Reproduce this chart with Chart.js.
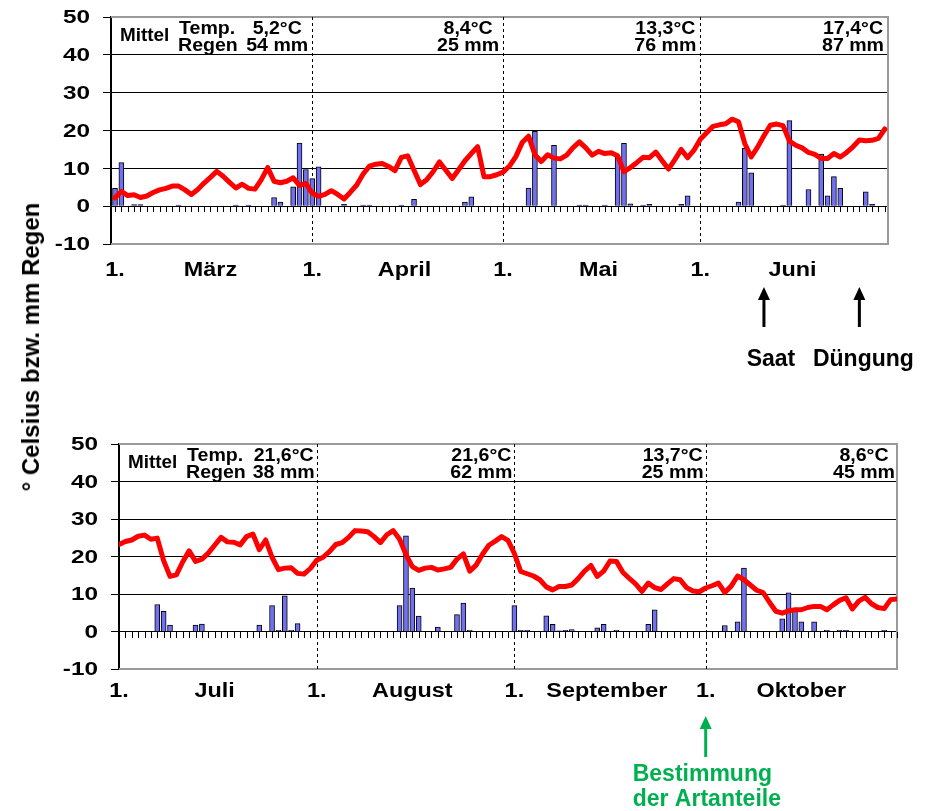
<!DOCTYPE html>
<html lang="de">
<head>
<meta charset="utf-8">
<title>Temperatur und Niederschlag</title>
<script src="https://cdn.jsdelivr.net/npm/chart.js@4.4.1/dist/chart.umd.min.js"></script>
<style>
  html, body { margin: 0; padding: 0; background: #fff; }
  #wrap { position: relative; width: 933px; height: 811px; overflow: hidden; background: #fff; }
  #wrap canvas { position: absolute; left: 0; top: 0; }
  #ytitle {
    position: absolute; left: 31px; top: 347px;
    transform: translate(-50%, -50%) rotate(-90deg);
    font: bold 24px "Liberation Sans", Arial, sans-serif;
    white-space: nowrap; color: #000;
  }
</style>
</head>
<body>
<div id="wrap">
  <canvas id="spring" width="933" height="811"></canvas>
  <canvas id="summer" width="933" height="811"></canvas>
  <div id="ytitle">° Celsius bzw. mm Regen</div>
</div>
<script>
// Daily mean air temperature (°C), one array per month
const tempMaerz = [2.2,3.9,2.8,3.0,2.3,2.7,3.6,4.3,4.7,5.3,5.3,4.3,3.1,4.4,6.1,7.6,9.2,7.9,6.3,4.8,5.8,4.7,4.5,7.0,10.2,6.6,6.2,6.6,7.5,5.5,6.0];
const tempApril = [3.4,2.6,3.1,4.1,3.1,1.9,3.7,5.6,8.5,10.6,11.1,11.3,10.5,9.4,12.9,13.3,9.5,5.7,7.0,9.1,11.7,9.5,7.3,9.6,12.0,13.9,15.7,7.8,7.8,8.3];
const tempMai   = [9.0,10.6,13.1,16.8,18.5,13.6,11.8,13.6,12.7,12.5,13.5,15.5,17.0,15.4,13.5,14.5,13.9,14.1,13.3,9.1,10.2,11.5,12.9,12.8,14.3,12.0,9.8,12.3,15.0,12.8,14.8];
const tempJuni  = [17.7,19.4,21.1,21.5,21.8,23.0,22.3,16.5,13.0,15.6,18.6,21.4,21.7,21.3,17.2,16.1,15.4,14.2,13.7,12.6,12.6,13.9,13.0,14.2,15.7,17.5,17.3,17.4,17.9,20.4];
const tempJuli  = [23.2,24.0,24.4,25.4,25.7,24.6,24.9,18.9,14.7,15.1,18.6,21.5,18.7,19.3,20.9,23.0,25.1,23.9,23.8,23.1,25.3,26.0,21.8,24.4,19.8,16.5,16.9,17.0,15.5,15.3,16.8];
const tempAugust = [19.0,19.8,21.3,23.2,23.7,25.1,26.9,26.8,26.6,25.3,23.7,25.8,26.9,24.6,20.5,17.3,16.3,16.9,17.1,16.4,16.7,17.1,19.3,20.7,16.1,17.7,20.6,23.0,24.1,25.3,24.3];
const tempSeptember = [20.8,16.0,15.4,14.8,13.8,11.9,11.1,12.0,12.0,12.4,14.1,16.1,17.6,14.7,16.1,18.8,18.7,15.8,14.2,12.7,10.7,12.9,11.7,11.2,12.7,14.1,13.8,11.7,10.8,10.6];
const tempOktober = [11.6,12.2,12.9,10.4,12.1,14.8,13.8,12.4,11.0,10.4,7.8,5.4,4.9,5.5,5.8,5.8,6.4,6.7,6.7,5.8,7.1,8.3,9.0,6.0,8.1,9.1,7.4,6.4,6.1,8.5,8.7];

// Daily rainfall (mm), one array per month; 0 = dry day
const rainMaerz = [4.7,11.5,0,0.4,0.4,0,0,0,0,0,0.3,0,0,0,0,0,0,0,0,0.3,0,0.3,0,0,0,2.3,1.1,0,5.1,16.7,9.7];
const rainApril = [7.3,10.4,0,0,0,0.5,0,0,0.3,0.3,0,0,0,0,0.3,0,1.8,0,0,0,0,0,0,0,1.1,2.5,0,0,0,0];
const rainMai   = [0,0,0,0,4.8,19.8,0,0,16.1,0,0,0,0.3,0.3,0,0,0.3,0,13.2,16.6,0.6,0,0.3,0.5,0,0,0,0,0.5,2.7,0];
const rainJuni  = [0,0,0,0,0,0,1.1,15.3,8.8,0,0,0,0,0.3,22.6,0,0,4.4,0,13.8,2.7,7.8,4.7,0,0,0,3.8,0.5,0,0];
const rainJuli  = [0,0,0,0,0,0,7.2,5.4,1.7,0,0,0,1.7,2.0,0,0,0,0,0,0,0,0,1.7,0,6.9,0.3,9.5,0.3,2.1,0,0];
const rainAugust = [0,0,0,0,0,0,0,0,0,0,0,0,0,6.9,25.5,11.6,4.1,0,0,1.2,0,0,4.5,7.6,0.4,0,0,0,0,0,0];
const rainSeptember = [6.9,0.3,0.3,0,0,4.2,1.9,0.2,0.3,0.5,0,0,0,1.0,1.9,0,0.3,0,0,0,0,1.9,5.8,0,0,0,0,0,0,0];
const rainOktober = [0,0,0,1.6,0,2.6,16.9,0,0,0,0,0,3.4,10.3,5.4,2.6,0,2.6,0,0.3,0,0.3,0.3,0,0,0,0,0,0.3,0,0];

// Month names and monthly means / sums printed in the header row
const springMonths = ['März', 'April', 'Mai', 'Juni'];
const springMeanTemp = ['5,2', '8,4', '13,3', '17,4'];
const springRainSum = ['54', '25', '76', '87'];
const summerMonths = ['Juli', 'August', 'September', 'Oktober'];
const summerMeanTemp = ['21,6', '21,6', '13,7', '8,6'];
const summerRainSum = ['38', '62', '25', '45'];

// Y axis ticks (°C or mm)
const yTicks = [-10, 0, 10, 20, 30, 40, 50];

const FONT = '"Liberation Sans", Arial, Helvetica, sans-serif';

function drawText(ctx, s, x, y, o) {
  ctx.save();
  ctx.font = 'bold ' + o.size + 'px ' + FONT;
  ctx.fillStyle = o.color || '#000';
  ctx.textBaseline = o.baseline || 'alphabetic';
  ctx.textAlign = o.align || 'left';
  ctx.translate(x, y);
  ctx.scale(o.sx || 1, 1);
  ctx.fillText(s, 0, 0);
  ctx.restore();
}

function drawArrow(ctx, x, yTip, yEnd, color) {
  ctx.save();
  ctx.strokeStyle = color;
  ctx.fillStyle = color;
  ctx.lineWidth = 3;
  ctx.beginPath();
  ctx.moveTo(x, yTip + 10);
  ctx.lineTo(x, yEnd);
  ctx.stroke();
  ctx.beginPath();
  ctx.moveTo(x, yTip);
  ctx.lineTo(x - 6, yTip + 13);
  ctx.lineTo(x + 6, yTip + 13);
  ctx.closePath();
  ctx.fill();
  ctx.restore();
}

function makePanel(id, p) {
  const temps = [].concat(...p.temps);
  const rain = [].concat(...p.rain);
  const starts = [];
  let acc = 0;
  p.temps.forEach(m => { starts.push(acc); acc += m.length; });
  const lastDay = acc - 1;

  const tempPts = temps.map((v, i) => ({ x: i, y: v }));
  const rainPts = [];
  rain.forEach((v, i) => { if (v > 0) rainPts.push({ x: i, y: v }); });

  const deco = {
    id: 'deco_' + id,
    beforeDatasetsDraw(chart) {
      const ctx = chart.ctx, a = chart.chartArea, x = chart.scales.x, y = chart.scales.y;
      ctx.save();
      // plot frame (top, right, bottom)
      ctx.strokeStyle = '#9a9a9a';
      ctx.lineWidth = 2;
      ctx.beginPath();
      ctx.moveTo(a.left, a.top);
      ctx.lineTo(a.right, a.top);
      ctx.lineTo(a.right, a.bottom);
      ctx.lineTo(a.left, a.bottom);
      ctx.stroke();
      // dashed month boundaries
      ctx.strokeStyle = '#000';
      ctx.lineWidth = 1;
      ctx.setLineDash([3, 3]);
      starts.slice(1).forEach(s => {
        const px = Math.round(x.getPixelForValue(s)) + 0.5;
        ctx.beginPath();
        ctx.moveTo(px, a.top);
        ctx.lineTo(px, a.bottom);
        ctx.stroke();
      });
      ctx.setLineDash([]);
      // day ticks hanging from the zero line
      const y0 = Math.round(y.getPixelForValue(0));
      ctx.beginPath();
      for (let d = 0; d <= lastDay; d++) {
        const px = Math.round(x.getPixelForValue(d)) + 0.5;
        ctx.moveTo(px, y0);
        ctx.lineTo(px, y0 + 6);
      }
      ctx.stroke();
      ctx.restore();
    },
    afterDraw(chart) {
      const ctx = chart.ctx, a = chart.chartArea, x = chart.scales.x, y = chart.scales.y;
      // y tick labels
      y.ticks.forEach(t => {
        drawText(ctx, String(t.value), a.left - 21, y.getPixelForValue(t.value) + 1,
          { size: 19, align: 'right', baseline: 'middle', sx: 1.28 });
      });
      // month labels below the axis
      p.months.forEach((name, i) => {
        const s = starts[i];
        const len = p.temps[i].length;
        drawText(ctx, '1.', x.getPixelForValue(s), p.labelY, { size: 19.5, align: 'center', sx: 1.2 });
        drawText(ctx, name, x.getPixelForValue(s + (len - 1) / 2), p.labelY, { size: 19.5, align: 'center', sx: 1.2 });
      });
      // header: monthly means
      drawText(ctx, 'Mittel', a.left + 9, a.top + 24, { size: 18, sx: 1.05 });
      drawText(ctx, 'Temp.', a.left + 68, a.top + 17, { size: 19, sx: 1.03 });
      drawText(ctx, 'Regen', a.left + 67, a.top + 34, { size: 19, sx: 1.03 });
      p.months.forEach((name, i) => {
        const edge = i < p.months.length - 1 ? x.getPixelForValue(starts[i + 1]) : a.right;
        const cx = edge - p.valueOffset;
        drawText(ctx, p.meanTemp[i] + '°C', cx, a.top + 17, { size: 19, align: 'center', sx: 1.03 });
        drawText(ctx, p.rainSum[i] + ' mm', cx, a.top + 34, { size: 19, align: 'center', sx: 1.03 });
      });
      // event arrows below the chart
      p.notes.forEach(n => {
        const ax = x.getPixelForValue(n.day);
        drawArrow(ctx, ax, n.tipY, n.endY, n.color);
        n.lines.forEach((ln, k) => {
          drawText(ctx, ln, ax + n.dx, n.textY + k * 25, { size: 23, align: n.align, color: n.color });
        });
      });
    }
  };

  const W = 933, H = 811;
  return new Chart(document.getElementById(id), {
    type: 'bar',
    data: {
      datasets: [
        {
          type: 'line', label: 'Temperatur', data: tempPts, order: 0,
          borderColor: '#ff0000', borderWidth: 5, pointRadius: 0, tension: 0,
          borderJoinStyle: 'round', borderCapStyle: 'round', fill: false
        },
        {
          type: 'bar', label: 'Regen', data: rainPts, order: 1,
          backgroundColor: '#7070f0', borderColor: '#000', borderWidth: 1, barThickness: 5
        }
      ]
    },
    options: {
      responsive: false,
      animation: false,
      events: [],
      layout: { padding: { left: p.area.left, top: p.area.top, right: W - p.area.right, bottom: H - p.area.bottom } },
      plugins: { legend: { display: false }, tooltip: { enabled: false } },
      scales: {
        x: { type: 'linear', min: p.xMin, max: p.xMax, offset: false, display: false },
        y: {
          min: -10, max: 50,
          afterBuildTicks: s => { s.ticks = yTicks.map(v => ({ value: v })); },
          ticks: { display: false },
          grid: {
            color: c => (c.tick && (c.tick.value === 50 || c.tick.value === -10)) ? 'rgba(0,0,0,0)' : '#000',
            tickColor: '#000', tickLength: 8, lineWidth: 1
          },
          border: { color: '#000', width: 2 },
          afterFit: s => { s.width = 0; }
        }
      }
    },
    plugins: [deco]
  });
}

makePanel('spring', {
  temps: [tempMaerz, tempApril, tempMai, tempJuni],
  rain: [rainMaerz, rainApril, rainMai, rainJuni],
  months: springMonths, meanTemp: springMeanTemp, rainSum: springRainSum,
  area: { left: 111, top: 17, right: 888, bottom: 244 },
  xMin: -0.63, xMax: 121.5,
  labelY: 276, valueOffset: 35,
  notes: [
    { day: 102, lines: ['Saat'], color: '#000', tipY: 287, endY: 327, textY: 366, dx: 7, align: 'center' },
    { day: 117, lines: ['Düngung'], color: '#000', tipY: 287, endY: 327, textY: 366, dx: 4, align: 'center' }
  ]
});

makePanel('summer', {
  temps: [tempJuli, tempAugust, tempSeptember, tempOktober],
  rain: [rainJuli, rainAugust, rainSeptember, rainOktober],
  months: summerMonths, meanTemp: summerMeanTemp, rainSum: summerRainSum,
  area: { left: 119, top: 444, right: 897, bottom: 669 },
  xMin: 0, xMax: 122,
  labelY: 697, valueOffset: 33,
  notes: [
    { day: 92, lines: ['Bestimmung', 'der Artanteile'], color: '#00b050', tipY: 716, endY: 757, textY: 781, dx: -73, align: 'left' }
  ]
});
</script>
</body>
</html>
